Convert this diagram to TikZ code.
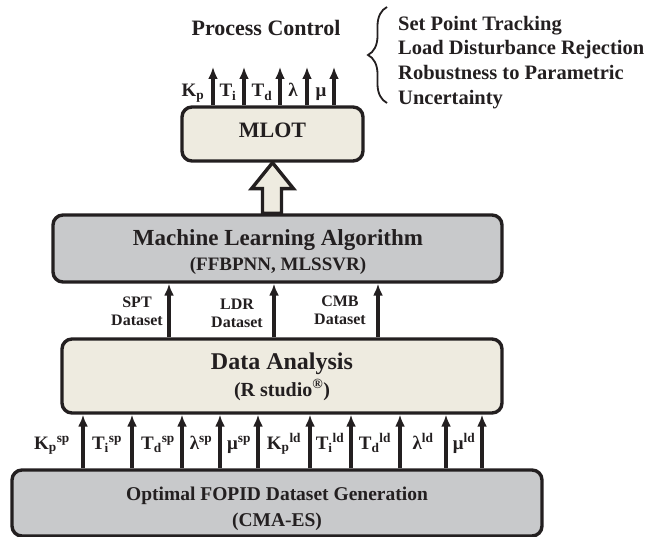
\documentclass[tikz,border=0pt]{standalone}
\usepackage{fontspec}
\setmainfont{Liberation Serif}
\usetikzlibrary{arrows.meta,decorations.pathreplacing,calc,backgrounds}
\definecolor{beigec}{RGB}{238,235,224}
\definecolor{greyc}{RGB}{200,201,203}
\definecolor{linec}{RGB}{35,31,32}
\newcommand\fs[1]{\fontsize{#1}{#1}\selectfont}
\newcommand\sublbl[3]{#1\textsubscript{#2}\textsuperscript{#3}}
\begin{document}
\begin{tikzpicture}[x=1pt,y=-1pt,
  box/.style={draw=linec, line width=3.4pt, rounded corners=10pt, inner sep=0pt},
  beigebox/.style={box, fill=beigec},
  greybox/.style={box, fill=greyc},
  arr/.style={draw=linec, line width=3.4pt, -{Latex[length=12pt,width=10pt]}},
  txt/.style={text=linec, inner sep=0pt, font=\bfseries},
  lbl/.style={txt, anchor=base, font=\bfseries\fs{19}}]
\useasboundingbox (0,0) rectangle (652,537);

% boxes
\node[beigebox, minimum width=181pt, minimum height=54pt] (mlot) at (272.5,134) {};
\node[greybox, minimum width=449pt, minimum height=67pt] (ml) at (277.5,248.5) {};
\node[beigebox, minimum width=440pt, minimum height=74pt] (da) at (282,376) {};
\node[greybox, minimum width=530pt, minimum height=66pt] (gen) at (277,503) {};

% box texts
\node[txt, anchor=base, font=\bfseries\fs{22}] (mlotT) at (272.5,138) {MLOT};
\node[txt, anchor=base, font=\bfseries\fs{23}] (mlT1) at (278,245) {Machine Learning Algorithm};
\node[txt, anchor=base, font=\bfseries\fs{19}] (mlT2) at (278,270) {(FFBPNN, MLSSVR)};
\node[txt, anchor=base, font=\bfseries\fs{24}] (daT1) at (282,369) {Data Analysis};
\node[txt, anchor=base, font=\bfseries\fs{20}] (daT2) at (282,396) {(R studio\textsuperscript{®})};
\node[txt, anchor=base, font=\bfseries\fs{19.5}] (genT1) at (277,500) {Optimal FOPID Dataset Generation};
\node[txt, anchor=base, font=\bfseries\fs{19.5}] (genT2) at (277,526) {(CMA-ES)};

% hollow arrow from the learning algorithm to MLOT
\coordinate (hl) at ($(mlot.south)+(-10,0)$);
\coordinate (hr) at ($(mlot.south)+(9,0)$);
\begin{scope}[on background layer]
\draw[draw=linec, fill=beigec, line width=3.4pt, line join=miter]
  (mlot.south) -- ++(21,26) -- ($(hr)+(0,26)$) -- (hr |- ml.north)
  -- (hl |- ml.north) -- ($(hl)+(0,26)$) -- ++(-11,0) -- cycle;
\end{scope}

% MLOT outputs
\foreach \x [count=\i] in {213,244,280,307,334} {
  \coordinate (o\i) at (\x,67);
  \draw[arr] (mlot.north -| o\i) -- (o\i);
}
\node[lbl] (tK) at (193,97) {K\textsubscript{p}};
\node[lbl] (tTi) at (228,97) {T\textsubscript{i}};
\node[lbl] (tTd) at (262,97) {T\textsubscript{d}};
\node[lbl] (tL) at (293,97) {λ};
\node[lbl] (tM) at (321,97) {μ};

% process control objectives
\node[txt, anchor=base, font=\bfseries\fs{22}] (pc) at (266,36) {Process Control};
\coordinate (bb) at (387,103);
\coordinate (bt) at (387,7);
\draw[linec, line width=1.8pt, decorate, decoration={brace, amplitude=19pt}] (bb) -- (bt);
\foreach \y/\t [count=\i] in {31/Set Point Tracking, 55/Load Disturbance Rejection,
  80/Robustness to Parametric, 105/Uncertainty}
  \node[txt, anchor=base west, font=\bfseries\fs{20.5}] (obj\i) at (398,\y) {\t};

% datasets into the learning algorithm
\foreach \x [count=\i] in {169,274,378} {
  \coordinate (m\i) at (\x,0);
  \draw[arr] (da.north -| m\i) -- (ml.south -| m\i);
}
\node[txt, align=center, anchor=base, font=\bfseries\fs{16}] (sptL) at (137,325) {SPT\\[2pt]Dataset};
\node[txt, align=center, anchor=base, font=\bfseries\fs{16}] (ldrL) at (237,327) {LDR\\[2pt]Dataset};
\node[txt, align=center, anchor=base, font=\bfseries\fs{16}] (cmbL) at (340,324) {CMB\\[2pt]Dataset};

% generated parameters into data analysis
\foreach \x [count=\i] in {83,132,182,220,258,310,351,400,446,482} {
  \coordinate (b\i) at (\x,0);
  \draw[arr] (gen.north -| b\i) -- (da.south -| b\i);
}
\foreach \x/\t [count=\i] in {
  52/{\sublbl{K}{p}{sp}}, 107/{\sublbl{T}{i}{sp}}, 158/{\sublbl{T}{d}{sp}},
  201/{λ\textsuperscript{sp}}, 239/{μ\textsuperscript{sp}}, 284/{\sublbl{K}{p}{ld}},
  330/{\sublbl{T}{i}{ld}}, 375/{\sublbl{T}{d}{ld}}, 423/{λ\textsuperscript{ld}},
  464/{μ\textsuperscript{ld}}}
  \node[lbl] (pl\i) at (\x,449) {\t};
\end{tikzpicture}
\end{document}
